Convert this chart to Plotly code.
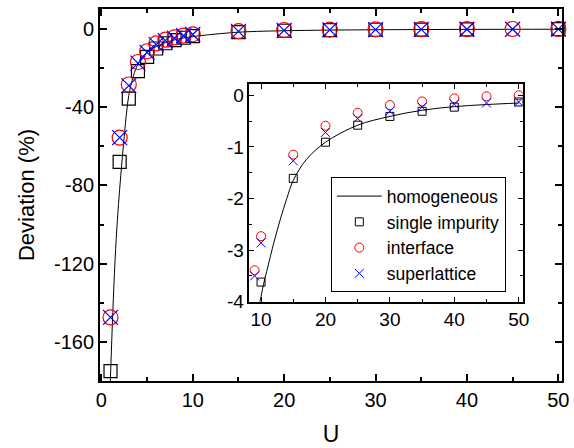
import plotly.graph_objects as go

# ---------------- data ----------------
U_pts = [1, 2, 3, 4, 5, 6, 7, 8, 9, 10, 15, 20, 25, 30, 35, 40, 45, 50]
U_single = [1, 2, 3, 4, 5, 6, 7, 8, 9, 10, 15, 20, 25, 30, 35, 40, 50]
single_impurity = [-175, -68, -35.6, -21.6, -14.3, -10.0, -7.3, -5.7, -4.5, -3.62,
                   -1.61, -0.91, -0.58, -0.41, -0.31, -0.23, -0.13]
interface = [-147.5, -55.6, -28.4, -16.9, -11.4, -7.4, -5.5, -4.3, -3.39, -2.73,
             -1.15, -0.59, -0.34, -0.19, -0.12, -0.06, -0.02, 0.0]
superlattice = [-147.5, -55.6, -29.0, -17.5, -12.0, -8.0, -6.0, -4.7, -3.5, -2.86,
                -1.27, -0.72, -0.45, -0.31, -0.23, -0.17, -0.15, -0.13]

U_line = [0.98, 1.25, 1.5, 1.75, 2.0, 2.25, 2.5, 2.75, 3.0, 3.5, 4.0, 4.5, 5.0, 6.0,
          7.0, 8.0, 9.0, 10.0, 10.5, 11.0, 12.0, 13.0, 14.0, 15.0, 17.0, 20.0,
          25.0, 30.0, 35.0, 40.0, 45.0, 50.0]
homogeneous = [-180, -145, -118, -98, -82, -68, -55, -43, -34, -24, -18, -14.5, -12.0,
               -9.0, -7.0, -5.6, -4.6, -3.9, -3.6, -3.35, -2.85, -2.4, -2.0, -1.65,
               -1.25, -0.91, -0.58, -0.41, -0.29, -0.22, -0.18, -0.15]

main_yticks = [-160, -120, -80, -40, 0]
main_yticktext = ["-160", "-120", "-80", "-40", "0"]
main_xticks = [0, 10, 20, 30, 40, 50]
inset_yticks = [-4, -3, -2, -1, 0]
inset_yticktext = ["-4", "-3", "-2", "-1", "0"]
inset_xticks = [10, 20, 30, 40, 50]

FONT = "Liberation Sans, Arial, sans-serif"

fig = go.Figure()

# ------------- main panel -------------
fig.add_trace(go.Scatter(x=U_line, y=homogeneous, mode="lines", line=dict(color="black", width=1, shape="spline"),
                         showlegend=False, xaxis="x", yaxis="y", cliponaxis=True))
fig.add_trace(go.Scatter(x=U_single, y=single_impurity, mode="markers",
                         marker=dict(symbol="square-open", size=13, color="black", line=dict(width=1.2)),
                         showlegend=False, xaxis="x", yaxis="y", cliponaxis=False))
fig.add_trace(go.Scatter(x=U_pts, y=interface, mode="markers",
                         marker=dict(symbol="circle-open", size=15, color="red", line=dict(width=1.2)),
                         showlegend=False, xaxis="x", yaxis="y", cliponaxis=False))
fig.add_trace(go.Scatter(x=U_pts, y=superlattice, mode="markers",
                         marker=dict(symbol="x-thin-open", size=15, color="blue", line=dict(width=1.2)),
                         showlegend=False, xaxis="x", yaxis="y", cliponaxis=False))

# ------------- inset panel -------------
fig.add_trace(go.Scatter(x=U_line, y=homogeneous, mode="lines", name="homogeneous",
                         line=dict(color="black", width=1, shape="spline"),
                         xaxis="x2", yaxis="y2"))
fig.add_trace(go.Scatter(x=U_single, y=single_impurity, mode="markers", name="single impurity",
                         marker=dict(symbol="square-open", size=8, color="black", line=dict(width=1)),
                         xaxis="x2", yaxis="y2"))
fig.add_trace(go.Scatter(x=U_pts, y=interface, mode="markers", name="interface",
                         marker=dict(symbol="circle-open", size=9, color="red", line=dict(width=1)),
                         xaxis="x2", yaxis="y2"))
fig.add_trace(go.Scatter(x=U_pts, y=superlattice, mode="markers", name="superlattice",
                         marker=dict(symbol="x-thin-open", size=9, color="blue", line=dict(width=1)),
                         xaxis="x2", yaxis="y2"))

axis_common = dict(showgrid=False, zeroline=False, showline=True, linecolor="black",
                   ticks="inside", tickcolor="black", mirror="allticks")

fig.update_layout(
    width=574, height=448,
    margin=dict(l=100, r=5, t=9, b=66),
    paper_bgcolor="white", plot_bgcolor="white",
    font=dict(family=FONT, color="black"),
    xaxis=dict(**axis_common, domain=[0, 1], range=[-0.15, 50.4], tickvals=main_xticks,
               linewidth=2, ticklen=7, tickwidth=1.5,
               minor=dict(dtick=5, tick0=0, ticks="inside", ticklen=4, tickwidth=1.5, tickcolor="black"),
               tickfont=dict(size=20), title=dict(text="U", font=dict(size=23), standoff=16)),
    yaxis=dict(**axis_common, domain=[0, 1], range=[-180, 10.2], tickvals=main_yticks,
               ticktext=main_yticktext, linewidth=2, ticklen=7, tickwidth=1.5,
               minor=dict(dtick=20, tick0=0, ticks="inside", ticklen=4, tickwidth=1.5, tickcolor="black"),
               tickfont=dict(size=20), title=dict(text="Deviation (%)", font=dict(size=22), standoff=13)),
    xaxis2=dict(**axis_common, domain=[0.3235, 0.9147], anchor="y2", range=[8.2, 50.6],
                tickvals=inset_xticks, linewidth=1.5, ticklen=5, tickwidth=1.2,
                minor=dict(dtick=5, tick0=0, ticks="inside", ticklen=3, tickwidth=1.2, tickcolor="black"),
                tickfont=dict(size=19)),
    yaxis2=dict(**axis_common, domain=[0.2132, 0.7986], anchor="x2", range=[-4, 0.22],
                tickvals=inset_yticks, ticktext=inset_yticktext, linewidth=1.5, ticklen=5, tickwidth=1.2,
                minor=dict(dtick=0.5, tick0=0, ticks="inside", ticklen=3, tickwidth=1.2, tickcolor="black"),
                tickfont=dict(size=19)),
    legend=dict(x=0.4996, y=0.5478, xanchor="left", yanchor="top", bgcolor="white",
                bordercolor="black", borderwidth=1, font=dict(size=17.5),
                tracegroupgap=0, itemwidth=45),
)

fig.write_html("out.html")
